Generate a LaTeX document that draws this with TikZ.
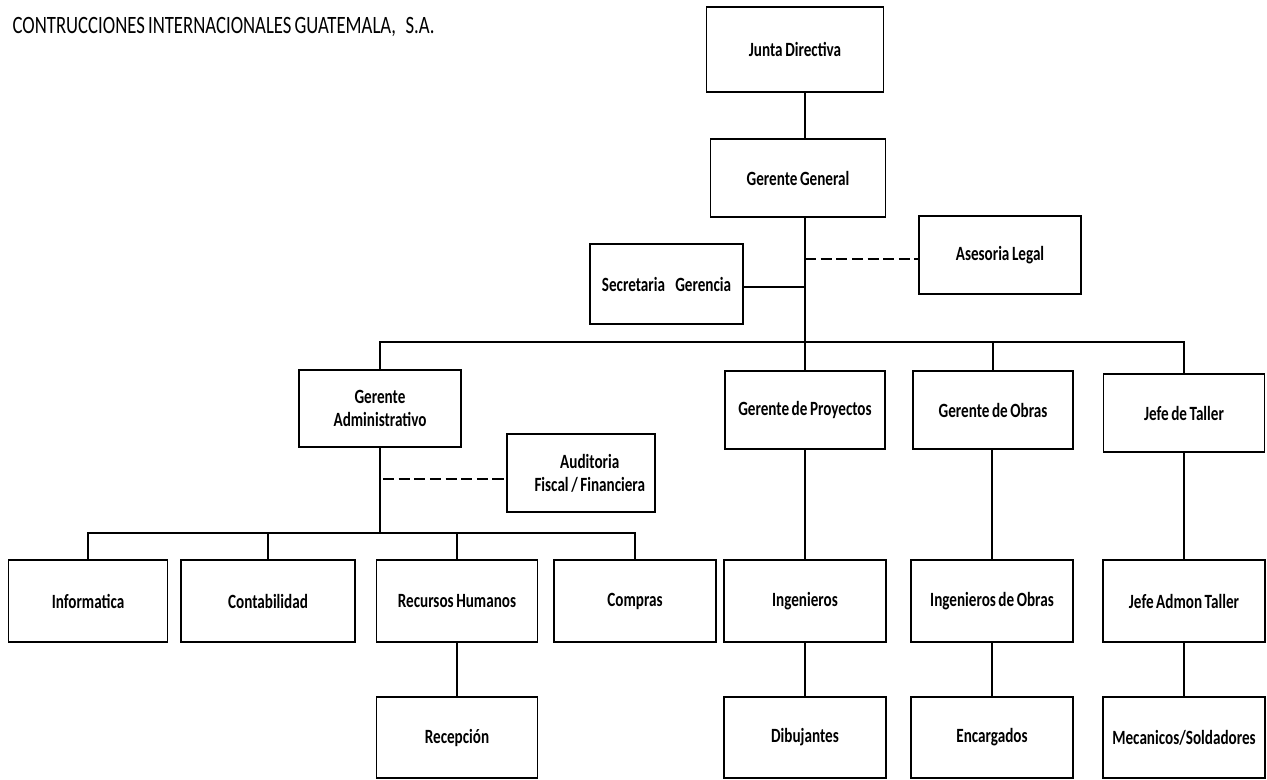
\documentclass[tikz,border=0pt]{standalone}
\usepackage{fontspec}
\setmainfont{Carlito}[FakeStretch=0.75,WordSpace=0.75]
\usepackage{tikz}
\usetikzlibrary{positioning,calc}
\tikzset{
  org/.style={
    line width=0.7pt,
    every node/.style={font=\fontsize{11.4}{13.1}\selectfont}
  },
  orgbox/.style={                  % unit box of the chart
    draw=black, line width=0.75pt,
    fill=white,
    inner sep=2pt,
    align=center,
    font=\fontsize{11.5}{13.1}\selectfont\bfseries,
    minimum width=3.22cm,
    minimum height=1.6cm
  },
  link/.style={line width=1.15pt, draw=black},
  advlink/.style={line width=1.5pt, draw=black, dash pattern=on 6.3pt off 2.6pt},
  titletext/.style={font=\fontsize{14.2}{17}\selectfont, inner sep=0pt, anchor=base west}
}
\begin{document}
\begin{tikzpicture}[org]
\useasboundingbox (0,0) rectangle (25.34,-15.58);

% Title
\node[titletext] (title) at (0.24,-0.66) {CONTRUCCIONES INTERNACIONALES GUATEMALA,\ \ \ S.A.};

% Top
\node[orgbox, minimum width=3.54cm, minimum height=1.70cm] (jd) at (15.90,-0.99) {Junta Directiva};
\node[orgbox, minimum width=3.50cm, minimum height=1.56cm] (gg) at (15.96,-3.56) {Gerente General};

% Staff units
\node[orgbox, minimum width=3.06cm] (sec) at (13.33,-5.68) {Secretaria\ \ \ \ Gerencia};
\node[orgbox, minimum width=3.24cm, minimum height=1.56cm] (ases) at (20.00,-5.10) {Asesoria Legal};

% Bus positions
\coordinate (busA) at (16.10,-6.84);
\coordinate (busB) at (7.60,-10.66);

% Managers
\node[orgbox, minimum width=3.24cm, minimum height=1.54cm] (ga) at (7.60,-8.17) {Gerente\\Administrativo};
\node[orgbox, minimum width=3.20cm, minimum height=1.56cm] (gp) at (16.10,-8.20) {Gerente de Proyectos};
\node[orgbox, minimum width=3.20cm, minimum height=1.56cm] (go) at (19.86,-8.20) {Gerente de Obras};
\node[orgbox, minimum width=3.22cm, minimum height=1.56cm] (jt) at (23.68,-8.26) {Jefe de Taller};
\node[orgbox, minimum width=2.96cm, minimum height=1.56cm] (aud) at (11.62,-9.46) {\hspace*{0.35cm}Auditoria\\\hspace*{0.35cm}Fiscal / Financiera};

% Departments
\node[orgbox, minimum width=3.18cm, minimum height=1.64cm] (inf) at (1.76,-12.02) {Informatica};
\node[orgbox, minimum width=3.48cm, minimum height=1.64cm] (con) at (5.36,-12.02) {Contabilidad};
\node[orgbox, minimum width=3.22cm, minimum height=1.64cm] (rh)  at (9.14,-12.02) {Recursos Humanos};
\node[orgbox, minimum width=3.24cm, minimum height=1.64cm] (com) at (12.70,-12.02) {Compras};
\node[orgbox, minimum width=3.24cm, minimum height=1.64cm] (ing) at (16.10,-12.02) {Ingenieros};
\node[orgbox, minimum width=3.24cm, minimum height=1.64cm] (ido) at (19.84,-12.02) {Ingenieros de Obras};
\node[orgbox, minimum width=3.24cm, minimum height=1.64cm] (jat) at (23.68,-12.02) {Jefe Admon Taller};

% Bottom row
\node[orgbox, minimum width=3.22cm, minimum height=1.62cm] (rec) at (9.14,-14.75) {Recepción};
\node[orgbox, minimum width=3.24cm, minimum height=1.62cm] (dib) at (16.10,-14.75) {Dibujantes};
\node[orgbox, minimum width=3.24cm, minimum height=1.62cm] (enc) at (19.84,-14.75) {Encargados};
\node[orgbox, minimum width=3.24cm, minimum height=1.62cm] (mec) at (23.68,-14.75) {Mecanicos/Soldadores};

% Trunk
\draw[link] (busA |- jd.south) -- (busA |- gg.north);
\draw[link] (busA |- gg.south) -- (busA);
\draw[link] ([yshift=-0.06cm]sec.east) -- ([yshift=-0.06cm]sec.east -| busA);
\draw[advlink] ([yshift=-0.08cm]ases.west -| busA) -- ([yshift=-0.08cm]ases.west);

% Upper bus
\draw[link] (ga.north) |- (busA) -| (jt.north);
\draw[link] (gp.north) -- (gp.north |- busA);
\draw[link] (go.north) -- (go.north |- busA);

% Administration branch
\draw[link] (ga.south) -- (busB);
\draw[advlink] ([yshift=-0.12cm,xshift=0.06cm]aud.west -| busB) -- ([yshift=-0.12cm]aud.west);
\draw[link] (inf.north) |- (busB) -| (com.north);
\draw[link] (con.north) -- (con.north |- busB);
\draw[link] (rh.north) -- (rh.north |- busB);
\draw[link] (rh.south) -- (rec.north);

% Operating branches
\draw[link] (gp.south) -- (ing.north);
\draw[link] (ing.south) -- (dib.north);
\draw[link] (go.south) -- (ido.north |- go.south);
\draw[link] (ido.north) -- (ido.north |- go.south);
\draw[link] (ido.south) -- (enc.north);
\draw[link] (jt.south) -- (jat.north);
\draw[link] (jat.south) -- (mec.north);

\end{tikzpicture}
\end{document}
